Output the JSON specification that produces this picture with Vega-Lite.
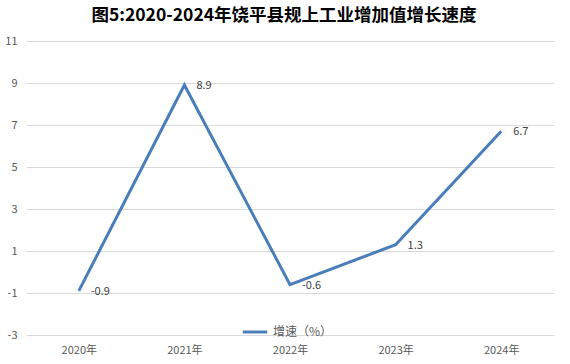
{
  "$schema": "https://vega.github.io/schema/vega-lite/v6.json",
  "width": 528,
  "height": 294,
  "autosize": {"type": "none"},
  "padding": {"left": 26, "top": 41, "right": 16, "bottom": 29},
  "background": "white",
  "title": {
    "text": "图5:2020-2024年饶平县规上工业增加值增长速度",
    "font": "Noto Sans CJK SC",
    "fontSize": 17.5,
    "fontWeight": "bold",
    "color": "#000000",
    "anchor": "middle",
    "dx": -6,
    "offset": 11
  },
  "data": {
    "values": [
      {"year": "2020年", "value": -0.9, "series": "增速（%）"},
      {"year": "2021年", "value": 8.9, "series": "增速（%）"},
      {"year": "2022年", "value": -0.6, "series": "增速（%）"},
      {"year": "2023年", "value": 1.3, "series": "增速（%）"},
      {"year": "2024年", "value": 6.7, "series": "增速（%）"}
    ]
  },
  "encoding": {
    "x": {
      "field": "year",
      "type": "ordinal",
      "scale": {"type": "point", "padding": 0.5},
      "axis": {
        "title": null,
        "labelAngle": 0,
        "ticks": false,
        "domain": false,
        "labelPadding": 9,
        "labelFont": "Noto Sans CJK SC",
        "labelFontSize": 11,
        "labelColor": "#595959"
      }
    },
    "y": {
      "field": "value",
      "type": "quantitative",
      "scale": {"domain": [-3, 11], "nice": false, "zero": false},
      "axis": {
        "title": null,
        "values": [-3, -1, 1, 3, 5, 7, 9, 11],
        "ticks": false,
        "domain": false,
        "gridColor": "#d9d9d9",
        "gridWidth": 1,
        "labelPadding": 9,
        "labelFont": "Noto Sans CJK SC",
        "labelFontSize": 11,
        "labelColor": "#595959"
      }
    }
  },
  "layer": [
    {
      "mark": {"type": "line", "strokeWidth": 3},
      "encoding": {
        "color": {
          "field": "series",
          "type": "nominal",
          "scale": {"range": ["#4a7ebb"]},
          "legend": {
            "title": null,
            "orient": "none",
            "legendX": 215,
            "legendY": 277,
            "symbolType": "stroke",
            "symbolStrokeWidth": 3,
            "symbolSize": 600,
            "labelFont": "Noto Sans CJK SC",
            "labelFontSize": 12,
            "labelColor": "#595959"
          }
        }
      }
    },
    {
      "mark": {
        "type": "text",
        "align": "left",
        "baseline": "middle",
        "dx": 12,
        "dy": 1,
        "font": "Noto Sans CJK SC",
        "fontSize": 11,
        "color": "#404040"
      },
      "encoding": {"text": {"field": "value", "type": "quantitative", "format": ".1f"}}
    }
  ],
  "config": {
    "view": {"stroke": null},
    "locale": {
      "number": {
        "decimal": ".",
        "thousands": ",",
        "grouping": [3],
        "currency": ["", ""],
        "minus": "-"
      }
    }
  }
}
